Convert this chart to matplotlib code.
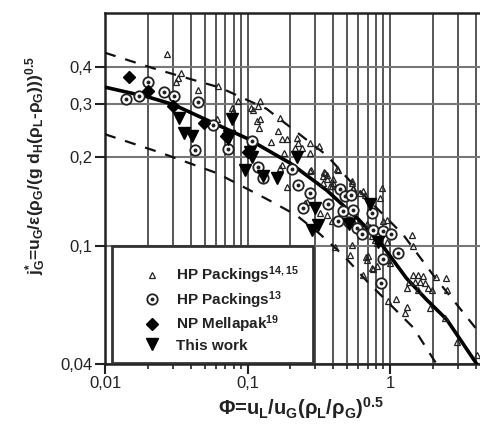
import matplotlib
matplotlib.use("Agg")
import numpy as np
from matplotlib import pyplot as plt
from matplotlib.patches import Rectangle
from matplotlib.legend_handler import HandlerTuple
from matplotlib.ticker import FixedLocator, FixedFormatter, LogLocator, NullLocator, NullFormatter

plt.rcParams["font.family"] = ["Liberation Sans", "DejaVu Sans"]
plt.rcParams["mathtext.default"] = "regular"

# HP Packings 14,15 (open triangles)
hp1415_x = [0.0271, 0.0341, 0.0327, 0.0313, 0.0447, 0.0624, 0.0862, 0.0796, 0.0774, 0.0608,
            0.122, 0.119, 0.110, 0.105, 0.116, 0.122, 0.121, 0.169, 0.165, 0.174,
            0.190, 0.145, 0.221, 0.227, 0.240, 0.275, 0.319, 0.275, 0.181, 0.215,
            0.169, 0.174, 0.190, 0.278, 0.346, 0.341, 0.423, 0.379, 0.400, 0.538,
            0.553, 0.323, 0.275, 0.350, 0.360, 0.390, 0.341, 0.360, 0.434, 0.538,
            0.553, 0.615, 0.668, 0.650, 0.874, 0.851, 0.898, 0.957, 0.400, 0.260,
            0.253, 0.360, 0.390, 0.423, 0.553, 0.650, 0.686, 0.724, 0.744, 0.785,
            0.806, 0.411, 0.538, 0.524, 0.705, 0.686, 0.744, 0.650, 0.973, 1.0,
            0.948, 1.42, 1.44, 0.679, 0.755, 0.806, 1.35, 1.31, 1.46, 1.58,
            1.71, 1.50, 1.63, 1.76, 1.86, 1.96, 1.58, 2.10, 2.47, 2.50,
            0.973, 1.11, 1.31, 1.27, 1.91, 2.43, 2.94, 4.06]
hp1415_y = [0.443, 0.384, 0.369, 0.357, 0.335, 0.346, 0.308, 0.284, 0.292, 0.267,
            0.308, 0.296, 0.288, 0.292, 0.263, 0.267, 0.250, 0.270, 0.244, 0.230,
            0.230, 0.224, 0.231, 0.222, 0.214, 0.222, 0.217, 0.206, 0.205, 0.214,
            0.183, 0.188, 0.158, 0.180, 0.177, 0.172, 0.182, 0.159, 0.163, 0.163,
            0.155, 0.129, 0.179, 0.176, 0.174, 0.159, 0.163, 0.168, 0.181, 0.165,
            0.157, 0.151, 0.148, 0.153, 0.157, 0.145, 0.121, 0.122, 0.168, 0.141,
            0.140, 0.127, 0.121, 0.122, 0.121, 0.112, 0.119, 0.116, 0.108, 0.105,
            0.102, 0.0995, 0.101, 0.0933, 0.0922, 0.0898, 0.0842, 0.0800, 0.0898, 0.0875,
            0.1035, 0.109, 0.100, 0.092, 0.0833, 0.0853, 0.0758, 0.0721, 0.080, 0.080,
            0.0794, 0.0758, 0.0758, 0.075, 0.0721, 0.0711, 0.0711, 0.0786, 0.0778, 0.0711,
            0.065, 0.0661, 0.0621, 0.0596, 0.0617, 0.057, 0.0476, 0.0429]

# HP Packings 13 (dotted circles)
hp13_x = [0.0140, 0.0174, 0.0201, 0.0261, 0.0307, 0.0447, 0.0428, 0.0576, 0.0726, 0.107,
          0.119, 0.129, 0.204, 0.227, 0.275, 0.244, 0.369, 0.446, 0.483, 0.532,
          0.471, 0.553, 0.434, 0.518, 0.584, 0.632, 0.744, 0.764, 0.888, 1.01,
          1.14, 0.898, 0.859]
hp13_y = [0.314, 0.321, 0.358, 0.331, 0.321, 0.306, 0.211, 0.255, 0.212, 0.225,
          0.185, 0.169, 0.182, 0.161, 0.151, 0.134, 0.138, 0.155, 0.147, 0.149,
          0.131, 0.132, 0.121, 0.120, 0.115, 0.110, 0.129, 0.113, 0.112, 0.110,
          0.0945, 0.0902, 0.0752]

# NP Mellapak 19 (filled diamonds)
mella_x = [0.0147, 0.0199, 0.0302, 0.0498, 0.0703, 0.101]
mella_y = [0.371, 0.334, 0.296, 0.259, 0.235, 0.208]

# This work (filled down triangles)
work_x = [0.0331, 0.0360, 0.0410, 0.0774, 0.0733, 0.0741, 0.104, 0.107, 0.0960, 0.129,
          0.160, 0.221, 0.298, 0.314, 0.282, 0.518, 0.724, 0.828]
work_y = [0.269, 0.240, 0.234, 0.267, 0.229, 0.234, 0.208, 0.200, 0.181, 0.172,
          0.169, 0.200, 0.134, 0.118, 0.113, 0.119, 0.139, 0.1035]

# correlation and +/- band
corr_x = [0.01, 0.02, 0.03, 0.05, 0.1, 0.2, 0.36, 0.6, 0.85, 1.3, 1.8, 2.5, 4.06]
corr_y = [0.343, 0.318, 0.300, 0.268, 0.230, 0.190, 0.154, 0.123, 0.103, 0.078, 0.066, 0.0565, 0.040]
up_x = [0.01, 0.023, 0.064, 0.136, 0.36, 0.54, 1.24, 2.0, 4.1]
up_y = [0.448, 0.394, 0.342, 0.29, 0.202, 0.163, 0.109, 0.080, 0.052]
lo_x = [0.01, 0.024, 0.061, 0.14, 0.22, 0.32, 0.47, 0.69, 1.46, 2.12]
lo_y = [0.238, 0.207, 0.176, 0.143, 0.127, 0.110, 0.093, 0.076, 0.053, 0.040]

y_ticks = [0.04, 0.1, 0.2, 0.3, 0.4]
y_labels = ["0,04", "0,1", "0,2", "0,3", "0,4"]
x_ticks = [0.01, 0.1, 1]
x_labels = ["0,01", "0,1", "1"]

ink = "#222222"

fig = plt.figure(figsize=(4.81, 4.29), dpi=100)
ax = fig.add_axes([105 / 481, 65 / 429, 376 / 481, 351 / 429])
ax.set_xscale("log")
ax.set_yscale("log")
ax.set_xlim(0.01, 4.35)
ax.set_ylim(0.04, 0.61)

ax.plot(up_x, up_y, color="#111111", lw=1.6, ls=(0, (5, 4.5)), zorder=3)
ax.plot(lo_x, lo_y, color="#111111", lw=1.6, ls=(0, (5, 4.5)), zorder=3)
ax.plot(corr_x, corr_y, color="black", lw=2.6, zorder=4)

ax.plot(hp1415_x, hp1415_y, ls="none", marker="^", ms=5, mfc="none", mec=ink, mew=0.9, zorder=5)
ax.plot(hp13_x, hp13_y, ls="none", marker="o", ms=7.5, mfc="white", mec=ink, mew=1.3, zorder=5)
ax.plot(hp13_x, hp13_y, ls="none", marker="o", ms=1.8, mfc=ink, mec=ink, zorder=6)
ax.plot(mella_x, mella_y, ls="none", marker="D", ms=6.5, mfc="black", mec="black", zorder=6)
ax.plot(work_x, work_y, ls="none", marker="v", ms=8, mfc="black", mec="black", zorder=6)

ax.xaxis.set_major_locator(FixedLocator(x_ticks))
ax.xaxis.set_major_formatter(FixedFormatter(x_labels))
ax.xaxis.set_minor_locator(LogLocator(base=10, subs=np.arange(2, 10)))
ax.xaxis.set_minor_formatter(NullFormatter())
ax.yaxis.set_major_locator(FixedLocator(y_ticks))
ax.yaxis.set_major_formatter(FixedFormatter(y_labels))
ax.yaxis.set_minor_locator(NullLocator())

ax.set_axisbelow(True)
ax.grid(True, which="both", axis="x", color="#3a3a3a", lw=1.2)
ax.grid(True, which="major", axis="y", color="#777777", lw=1.5)

ax.tick_params(which="major", length=7, width=1.5, color=ink, labelsize=12, labelcolor=ink, pad=2)
ax.tick_params(which="minor", length=3.5, width=1.2, color=ink)
for side in ["left", "bottom", "top"]:
    ax.spines[side].set_linewidth(1.8)
    ax.spines[side].set_color(ink)
ax.spines["right"].set_visible(False)

ax.set_xlabel(r"Φ=u$_{L}$/u$_{G}$(ρ$_{L}$/ρ$_{G}$)$^{0.5}$", fontsize=14.5,
              fontweight="bold", color=ink)
ax.set_ylabel(r"j$_{G}^{*}$=u$_{G}$/ε(ρ$_{G}$/(g d$_{H}$(ρ$_{L}$-ρ$_{G}$)))$^{0.5}$",
              fontsize=12.5, fontweight="bold", color=ink)
ax.xaxis.set_label_coords(0.52, -0.088)
ax.yaxis.set_label_coords(-0.152, 0.564)

# legend box
box = Rectangle((0.0186, 0.004), 0.535, 0.331, transform=ax.transAxes,
                facecolor="white", edgecolor="#333333", lw=2, zorder=7)
ax.add_patch(box)

h1, = ax.plot([], [], ls="none", marker="^", ms=5, mfc="none", mec=ink, mew=0.9)
h2a, = ax.plot([], [], ls="none", marker="o", ms=7.5, mfc="white", mec=ink, mew=1.3)
h2b, = ax.plot([], [], ls="none", marker="o", ms=1.8, mfc=ink, mec=ink)
h3, = ax.plot([], [], ls="none", marker="D", ms=6.5, mfc="black", mec="black")
h4, = ax.plot([], [], ls="none", marker="v", ms=8, mfc="black", mec="black")
leg = ax.legend([h1, (h2a, h2b), h3, h4],
                ["HP Packings$^{14,15}$", "HP Packings$^{13}$", "NP Mellapak$^{19}$", "This work"],
                handler_map={tuple: HandlerTuple(ndivide=1)},
                loc="center", bbox_to_anchor=(0.31, 0.158), frameon=False,
                prop={"size": 11, "weight": "bold"}, labelspacing=0.2,
                handletextpad=1.1, handlelength=1.0, labelcolor=ink)
leg.set_zorder(8)

fig.savefig("out.png", dpi=100)
plt.close(fig)
